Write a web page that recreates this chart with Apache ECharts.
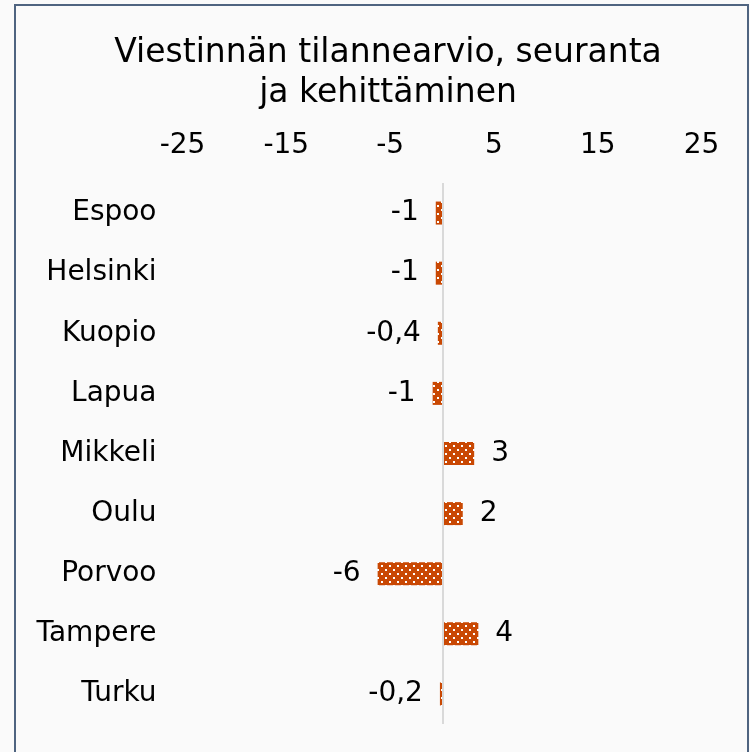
<!DOCTYPE html>
<html>
<head>
<meta charset="utf-8">
<script src="https://cdn.jsdelivr.net/npm/echarts@6/dist/echarts.min.js"></script>
<style>
  html, body { margin: 0; padding: 0; background: #fafafa; }
  #chart { width: 750px; height: 752px; }
</style>
</head>
<body>
<div id="chart"></div>
<script>
// data
var cities = ['Espoo', 'Helsinki', 'Kuopio', 'Lapua', 'Mikkeli', 'Oulu', 'Porvoo', 'Tampere', 'Turku']
var values = [-0.6, -0.6, -0.4, -0.9, 3.1, 2.0, -6.2, 3.5, -0.2]
var axisMin = -25
var axisMax = 25
var axisStep = 10

// dotted fill like the original
function dotPattern() {
    var c = document.createElement('canvas')
    c.width = 8
    c.height = 8
    var ctx = c.getContext('2d')
    ctx.fillStyle = '#C94803'
    ctx.fillRect(0, 0, 8, 8)
    ctx.fillStyle = '#ffffff'
    ctx.fillRect(1, 1, 2, 2)
    ctx.fillRect(5, 5, 2, 2)
    return c
}

function fmt(v) {
    if (Math.abs(v) < 0.5) {
        return v.toFixed(1).replace('.', ',')
    }
    return String(Math.round(v))
}

var chart = echarts.init(document.getElementById('chart'))
var pattern = { image: dotPattern(), repeat: 'repeat' }

chart.setOption({
    backgroundColor: '#fafafa',
    animation: false,
    textStyle: { fontFamily: 'DejaVu Sans' },
    title: {
        text: 'Viestinnän tilannearvio, seuranta\nja kehittäminen',
        left: 383,
        top: 28,
        textAlign: 'center',
        textStyle: {
            fontFamily: 'DejaVu Sans',
            fontWeight: 'normal',
            fontSize: 33,
            lineHeight: 40,
            color: '#000'
        }
    },
    graphic: [{
        type: 'rect',
        shape: { x: 15, y: 5, width: 733, height: 760 },
        style: { fill: 'none', stroke: '#4F6480', lineWidth: 2 },
        silent: true
    }],
    grid: {
        left: 182.5,
        right: 48.5,
        top: 183,
        bottom: 28
    },
    xAxis: {
        type: 'value',
        position: 'top',
        min: axisMin,
        max: axisMax,
        interval: axisStep,
        axisLine: { show: false },
        axisTick: { show: false },
        splitLine: { show: false },
        axisLabel: {
            fontSize: 28,
            color: '#000',
            margin: 23
        }
    },
    yAxis: {
        type: 'category',
        inverse: true,
        data: cities,
        axisLine: { show: false },
        axisTick: { show: false },
        axisLabel: {
            fontSize: 28,
            color: '#000',
            margin: 26
        }
    },
    series: [{
        // zero line, drawn under the bars
        type: 'bar',
        data: [],
        z: 1,
        markLine: {
            silent: true,
            symbol: 'none',
            label: { show: false },
            lineStyle: { color: '#D9D9D9', width: 2, type: 'solid' },
            data: [{ xAxis: 0.1 }]
        }
    }, {
        type: 'bar',
        barWidth: 23,
        barGap: '-100%',
        data: values.map(function (v) {
            return {
                value: v,
                label: { position: v < 0 ? 'left' : 'right' }
            }
        }),
        itemStyle: { color: pattern },
        label: {
            show: true,
            distance: 17,
            fontSize: 28,
            color: '#000',
            formatter: function (p) { return fmt(p.value) }
        },
        z: 3
    }]
})
</script>
</body>
</html>
